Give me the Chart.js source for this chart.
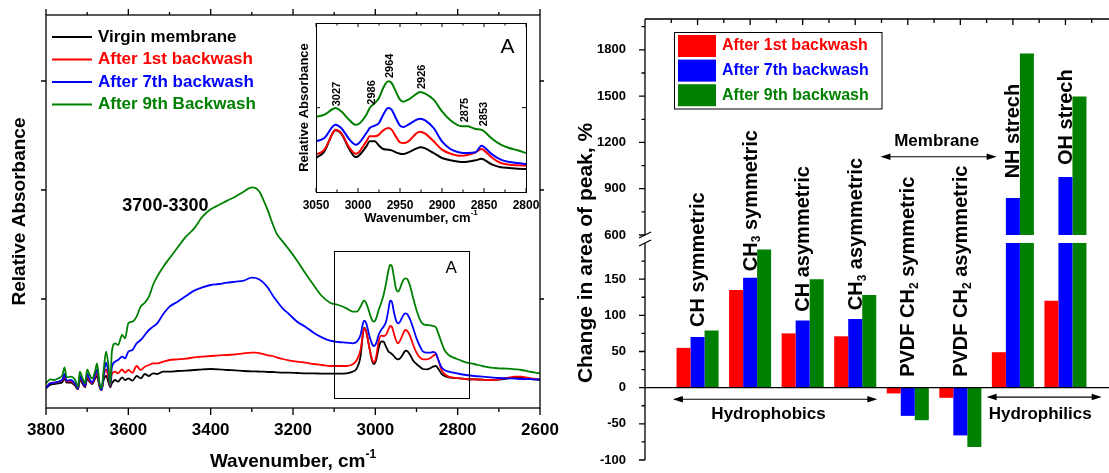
<!DOCTYPE html>
<html>
<head>
<meta charset="utf-8">
<title>FTIR spectra and change in peak area</title>
<script src="https://cdn.jsdelivr.net/npm/chart.js@4.4.1/dist/chart.umd.min.js"></script>
<style>
  html, body { margin: 0; padding: 0; background: #fff; overflow: hidden; }
  #page { position: relative; width: 1109px; height: 473px; overflow: hidden; }
  #page canvas { position: absolute; top: 0; }
</style>
</head>
<body>
<div id="page">
  <canvas id="spectra" width="564" height="473" style="left:0"></canvas>
  <canvas id="inset" width="250" height="230" style="left:290px"></canvas>
  <canvas id="peaks" width="558" height="473" style="left:560px"></canvas>
</div>
<script>
const FONT = 'Arial, "Liberation Sans", Helvetica, sans-serif';
Chart.defaults.font.family = FONT;

// FTIR spectra, relative absorbance in arbitrary units
const wavenumbers = [3800,3790,3780,3770,3760,3755,3750,3740,3730,3722,3718,3712,3705,3700,
  3695,3688,3680,3676,3670,3665,3660,3654,3648,3644,3640,
  3632,3625,3615,3608,3600,
  3590,3580,3570,3560,3550,3540,3530,3515,3500,
  3480,3460,3440,3420,3400,3380,3360,3340,3320,3300,
  3290,3280,3270,3260,3250,3240,3225,3210,3190,3170,3150,3130,3110,3090,3070,
  3055,3045,3036,3030,3027,3022,3015,3008,3003,2998,2992,2986,
  2980,2974,2968,2964,2960,2955,2950,2945,2940,2934,2929,2926,
  2921,2915,2908,2900,2892,2884,2875,2867,2860,2853,
  2847,2840,2832,2822,2810,2795,2780,2760,2740,2720,
  2700,2680,2660,2645,2630,2615,2600];
const virgin = [59,69,72,74,78,89,76,76,68,56,86,74,62,89,
  80,72,90,96,64,54,84,96,76,62,74,
  84,79,92,84,89,
  82,96,89,102,96,104,102,109,109,
  111,112,114,116,117,116,114,113,111,110,
  110,109,109,108,108,107,106,106,105,104,104,103,103,103,104,
  109,119,154,224,241,229,184,142,132,144,179,200,
  199,184,169,166,162,156,149,146,149,159,169,172,
  169,158,142,132,124,117,116,119,124,126,
  118,104,96,92,90,89,87,86,85,84,
  85,88,92,91,88,86,84];
const after1st = [62,74,76,78,84,96,80,80,72,58,92,78,64,96,
  84,74,96,104,66,54,94,116,89,64,102,
  109,104,116,106,114,
  106,126,114,124,129,134,134,139,144,
  146,148,152,154,156,158,159,161,164,166,
  166,164,161,158,156,152,147,143,139,136,132,129,126,126,126,
  131,144,174,224,239,229,184,146,136,154,199,217,
  216,220,236,246,244,224,204,194,202,219,232,234,
  229,214,189,166,152,146,146,149,156,161,
  144,116,102,94,91,89,87,86,85,84,
  86,90,94,94,91,88,86];
const after7th = [59,74,76,79,86,102,82,84,74,59,96,82,66,102,
  89,76,102,116,69,54,99,136,104,66,122,
  139,144,154,149,169,
  174,194,204,219,234,244,254,282,304,
  319,336,352,362,369,372,376,379,382,391,
  390,384,374,359,339,322,299,282,259,244,226,212,202,198,196,
  194,199,219,254,262,254,219,192,186,194,219,234,
  244,259,296,322,319,289,264,254,259,274,283,284,
  279,264,239,209,186,169,166,166,168,164,
  144,124,114,109,106,102,99,96,94,92,
  90,89,88,87,87,86,86];
const after9th = [74,86,84,89,99,122,92,94,86,64,109,92,74,116,
  102,89,114,134,74,59,114,169,124,69,169,
  194,189,219,209,254,
  259,274,304,316,334,369,394,424,449,
  482,514,539,574,596,609,622,634,649,662,
  659,646,619,589,554,524,499,476,442,404,369,336,316,309,299,
  289,289,304,319,322,314,289,264,259,269,294,314,
  339,374,414,429,426,394,359,349,359,379,388,389,
  384,364,329,294,266,252,249,248,246,242,
  224,199,174,159,151,144,137,132,126,121,
  119,118,116,114,110,107,104];
const spectraNames = ['Virgin membrane', 'After 1st backwash', 'After 7th backwash', 'After 9th Backwash'];
const spectraColors = ['#000000', '#ff0000', '#0000ff', '#008000'];
const spectraLevels = [327, 654, 981];
const regionA = { from: 3100, to: 2772, low: 31, high: 471 };

// inset A, 3050-2800 cm-1
const insetWavenumbers = [3050,3040,3030,3027,3020,3010,3003,3000,2990,2986,2980,2975,2970,2964,2960,2955,2950,2946,
  2940,2930,2926,2920,2910,2900,2890,2880,2875,2870,2860,2853,2850,2840,2830,2820,2810,2800];
const insetVirgin = [102,122,177,185,175,127,105,107,137,152,152,139,129,127,125,119,115,114,
  119,131,134,131,117,102,95,91,90,91,95,100,97,82,74,72,70,69];
const insetAfter1st = [112,127,177,187,177,132,115,117,152,167,167,172,185,192,187,167,149,147,
  152,177,181,175,152,127,115,109,109,111,119,129,125,102,87,82,80,79];
const insetAfter7th = [152,162,197,202,192,157,142,144,177,192,199,207,232,252,247,222,199,195,
  202,217,220,215,192,152,129,119,117,117,119,139,135,112,97,90,87,84];
const insetAfter9th = [225,232,249,252,242,215,202,203,232,252,267,282,312,332,327,302,277,271,
  277,295,300,295,277,242,215,199,197,197,189,187,182,159,142,132,125,117];
const peakWavenumbers = [3027, 2986, 2964, 2926, 2875, 2853];
const peakLabelLevels = [257, 262, 342, 309, 209, 197];
const insetLevels = [253];

// change in area of peak, %
const peakGroups = ['CH symmetric', 'CH₃ symmetric', 'CH asymmetric', 'CH₃ asymmetric',
  'PVDF CH₂ symmetric', 'PVDF CH₂ asymmetric', 'NH strech', 'OH strech'];
const change1st = [55, 135, 75, 71, -8, -14, 49, 120];
const change7th = [70, 152, 93, 95, -39, -66, 840, 976];
const change9th = [79, 191, 150, 128, -45, -82, 1777, 1497];
const groupLabelLevels = [84, 161, 105, 107, 15, 15, 967, 1054];
const barNames = ['After 1st backwash', 'After 7th backwash', 'After 9th backwash'];
const barColors = ['#ff0000', '#0000ff', '#008000'];
const lowTicks = [-100, -50, 0, 50, 100, 150];
const highTicks = [600, 900, 1200, 1500, 1800];
const breakLow = 200, breakHigh = 600;
const peakClasses = [
  { name: 'Hydrophobics', from: -0.47, to: 3.42, line: -16, text: -36.5, at: 1.35 },
  { name: 'Membrane', from: 3.48, to: 5.69, line: 1107, text: 1205, at: 4.55 },
  { name: 'Hydrophilics', from: 5.5, to: 7.69, line: -13, text: -36.5, at: 6.52 }
];

// text with sub/superscripts (₂ ₃ ⁻ ¹)
const SUB = '₀₁₂₃₄₅₆₇₈₉';
const SUP = { '⁻': '-', '¹': '1', '²': '2' };
function textRuns(text) {
  const out = [];
  for (const ch of text) {
    let kind = 'n', c = ch;
    if (SUB.includes(ch)) { kind = 'sub'; c = String(SUB.indexOf(ch)); }
    else if (SUP[ch]) { kind = 'sup'; c = SUP[ch]; }
    const last = out[out.length - 1];
    if (last && last.kind === kind) last.t += c; else out.push({ kind, t: c });
  }
  return out;
}
function drawLabel(ctx, text, x, y, o) {
  const size = o.size, small = Math.round(size * 0.62);
  const font = s => `${o.weight || 'bold'} ${s}px ${FONT}`;
  const parts = textRuns(text);
  let w = 0;
  parts.forEach(p => { ctx.font = font(p.kind === 'n' ? size : small); p.w = ctx.measureText(p.t).width; w += p.w; });
  ctx.save();
  ctx.translate(x, y);
  if (o.rotate) ctx.rotate(-Math.PI / 2);
  ctx.fillStyle = o.color || '#000';
  ctx.textBaseline = 'middle';
  ctx.textAlign = 'left';
  let cx = o.align === 'left' ? 0 : -w / 2;
  parts.forEach(p => {
    ctx.font = font(p.kind === 'n' ? size : small);
    const dy = p.kind === 'sub' ? size * 0.3 : p.kind === 'sup' ? -size * 0.38 : 0;
    ctx.fillText(p.t, cx, dy);
    cx += p.w;
  });
  ctx.restore();
}
function midpoints(values) {
  return values.slice(1).map((v, i) => (v + values[i]) / 2);
}

// ---------- left: spectra ----------
const spectraSeries = [virgin, after1st, after7th, after9th];

const spectraDecor = {
  id: 'spectraDecor',
  afterDraw(chart) {
    const { ctx, chartArea: a, scales: { x, y } } = chart;
    ctx.save();
    ctx.strokeStyle = '#000';
    ctx.lineWidth = 1.3;
    ctx.strokeRect(a.left, a.top, a.right - a.left, a.bottom - a.top);

    const major = x.ticks.map(t => t.value);
    ctx.beginPath();
    major.forEach(v => {
      const px = x.getPixelForValue(v);
      ctx.moveTo(px, a.bottom); ctx.lineTo(px, a.bottom + 7);
      ctx.moveTo(px, a.top); ctx.lineTo(px, a.top - 6);
    });
    midpoints(major).forEach(v => {
      const px = x.getPixelForValue(v);
      ctx.moveTo(px, a.bottom); ctx.lineTo(px, a.bottom + 4);
      ctx.moveTo(px, a.top); ctx.lineTo(px, a.top - 3);
    });
    spectraLevels.forEach(v => {
      const py = y.getPixelForValue(v);
      ctx.moveTo(a.left, py); ctx.lineTo(a.left - 5, py);
      ctx.moveTo(a.right, py); ctx.lineTo(a.right + 4, py);
    });
    ctx.stroke();

    // region shown in inset A
    ctx.lineWidth = 1;
    const bx = x.getPixelForValue(regionA.from), bx2 = x.getPixelForValue(regionA.to);
    const by = y.getPixelForValue(regionA.high), by2 = y.getPixelForValue(regionA.low);
    ctx.strokeRect(Math.round(bx) + 0.5, Math.round(by) + 0.5, Math.round(bx2 - bx), Math.round(by2 - by));
    drawLabel(ctx, 'A', x.getPixelForValue(2816), y.getPixelForValue(420), { size: 17, weight: 'normal' });
    drawLabel(ctx, '3700-3300', x.getPixelForValue(3510), y.getPixelForValue(606), { size: 18 });

    // legend
    chart.data.datasets.forEach((ds, i) => {
      const ly = 37 + i * 22.5;
      ctx.strokeStyle = ds.borderColor;
      ctx.lineWidth = 2;
      ctx.beginPath(); ctx.moveTo(52, ly); ctx.lineTo(92, ly); ctx.stroke();
      drawLabel(ctx, ds.label, 98, ly, { size: 17, color: ds.borderColor, align: 'left' });
    });

    drawLabel(ctx, 'Wavenumber, cm⁻¹', (a.left + a.right) / 2, 462, { size: 19 });
    drawLabel(ctx, 'Relative Absorbance', 20, (a.top + a.bottom) / 2, { size: 19, rotate: true });
    ctx.restore();
  }
};

new Chart(document.getElementById('spectra'), {
  type: 'line',
  data: {
    datasets: spectraSeries.map((vals, i) => ({
      label: spectraNames[i],
      data: wavenumbers.map((w, k) => ({ x: w, y: vals[k] })),
      borderColor: spectraColors[i],
      borderWidth: 1.8,
      pointRadius: 0,
      cubicInterpolationMode: 'monotone',
      order: spectraSeries.length - i
    }))
  },
  options: {
    responsive: false,
    animation: false,
    events: [],
    layout: { padding: { left: 46, top: 15, right: 24, bottom: 0 } },
    plugins: { legend: { display: false }, tooltip: { enabled: false } },
    scales: {
      x: {
        type: 'linear', reverse: true, min: 2600, max: 3800,
        ticks: { stepSize: 200, callback: v => String(v), color: '#000', padding: 4,
          maxRotation: 0, autoSkip: false, font: { size: 17, weight: 'bold' } },
        grid: { display: false },
        border: { display: false },
        afterFit: s => { s.height = 65; s.paddingLeft = 0; s.paddingRight = 0; }
      },
      y: { display: false, min: 0, max: 1179 }
    }
  },
  plugins: [spectraDecor]
});

// ---------- inset A ----------
const insetSeries = [insetVirgin, insetAfter1st, insetAfter7th, insetAfter9th];

const insetDecor = {
  id: 'insetDecor',
  afterDraw(chart) {
    const { ctx, chartArea: a, scales: { x, y } } = chart;
    ctx.save();
    ctx.strokeStyle = '#000';
    ctx.lineWidth = 1;
    ctx.strokeRect(a.left + 0.5, a.top + 0.5, a.right - a.left, a.bottom - a.top);
    const major = x.ticks.map(t => t.value);
    ctx.beginPath();
    major.forEach(v => {
      const px = x.getPixelForValue(v);
      ctx.moveTo(px, a.bottom); ctx.lineTo(px, a.bottom - 4);
      ctx.moveTo(px, a.top); ctx.lineTo(px, a.top + 4);
    });
    midpoints(major).forEach(v => {
      const px = x.getPixelForValue(v);
      ctx.moveTo(px, a.bottom); ctx.lineTo(px, a.bottom - 2.5);
      ctx.moveTo(px, a.top); ctx.lineTo(px, a.top + 2.5);
    });
    insetLevels.forEach(v => {
      const py = y.getPixelForValue(v);
      ctx.moveTo(a.left, py); ctx.lineTo(a.left + 4, py);
      ctx.moveTo(a.right, py); ctx.lineTo(a.right - 4, py);
    });
    ctx.stroke();

    peakWavenumbers.forEach((w, i) => {
      drawLabel(ctx, String(w), x.getPixelForValue(w) + 2, y.getPixelForValue(peakLabelLevels[i]),
        { size: 11, rotate: true, align: 'left' });
    });
    drawLabel(ctx, 'A', x.getPixelForValue(2822), y.getPixelForValue(435), { size: 21, weight: 'normal' });
    drawLabel(ctx, 'Wavenumber, cm⁻¹', (a.left + a.right) / 2, 218, { size: 13 });
    drawLabel(ctx, 'Relative Absorbance', 14, (a.top + a.bottom) / 2, { size: 13, rotate: true });
    ctx.restore();
  }
};

new Chart(document.getElementById('inset'), {
  type: 'line',
  data: {
    datasets: insetSeries.map((vals, i) => ({
      label: spectraNames[i],
      data: insetWavenumbers.map((w, k) => ({ x: w, y: vals[k] })),
      borderColor: spectraColors[i],
      borderWidth: 2,
      pointRadius: 0,
      cubicInterpolationMode: 'monotone',
      order: insetSeries.length - i
    }))
  },
  options: {
    responsive: false,
    animation: false,
    events: [],
    layout: { padding: { left: 26, top: 23, right: 14, bottom: 0 } },
    plugins: { legend: { display: false }, tooltip: { enabled: false } },
    scales: {
      x: {
        type: 'linear', reverse: true, min: 2800, max: 3050,
        ticks: { stepSize: 50, callback: v => String(v), color: '#000', padding: -2,
          maxRotation: 0, autoSkip: false, font: { size: 12, weight: 'bold' } },
        grid: { display: false },
        border: { display: false },
        afterFit: s => { s.height = 38; s.paddingLeft = 0; s.paddingRight = 0; }
      },
      y: { display: false, min: 0, max: 507 }
    }
  },
  plugins: [insetDecor]
});

// ---------- right: change in area of peak ----------
const barSeries = [change1st, change7th, change9th];
const highWeight = 220, lowWeight = 221;

// each series is drawn twice, once per axis segment; clipping to the
// segment's own box hides the part that falls outside it
function barDataset(i, axis) {
  return {
    label: barNames[i],
    data: barSeries[i].map((v, k) => ({ x: k, y: v })),
    backgroundColor: barColors[i],
    borderWidth: 0,
    yAxisID: axis,
    stack: 'series' + i,
    categoryPercentage: 0.8,
    barPercentage: 1,
    clip: 0
  };
}

function arrow(ctx, x0, x1, y) {
  ctx.beginPath(); ctx.moveTo(x0 + 5, y); ctx.lineTo(x1 - 5, y); ctx.stroke();
  [[x0, 1], [x1, -1]].forEach(([px, d]) => {
    ctx.beginPath();
    ctx.moveTo(px, y);
    ctx.lineTo(px + d * 10, y - 3.2);
    ctx.lineTo(px + d * 10, y + 3.2);
    ctx.closePath();
    ctx.fill();
  });
}

const peakDecor = {
  id: 'peakDecor',
  afterDatasetsDraw(chart) {
    const { ctx, chartArea: a, scales: { yHigh, yLow } } = chart;
    const g0 = yHigh.getPixelForValue(breakHigh), g1 = yLow.getPixelForValue(breakLow);
    ctx.save();
    ctx.fillStyle = '#fff';
    ctx.fillRect(a.left, g0, a.right - a.left, g1 - g0);
    ctx.restore();
  },
  afterDraw(chart) {
    const { ctx, chartArea: a, scales: { x, yHigh, yLow } } = chart;
    const g0 = yHigh.getPixelForValue(breakHigh), g1 = yLow.getPixelForValue(breakLow);
    const onAxis = v => (v >= breakHigh ? yHigh : yLow).getPixelForValue(v);
    ctx.save();
    ctx.strokeStyle = '#000';
    ctx.fillStyle = '#000';
    ctx.lineWidth = 1.3;
    ctx.beginPath();
    ctx.moveTo(a.left, a.top); ctx.lineTo(a.left, g0);
    ctx.moveTo(a.left, g1); ctx.lineTo(a.left, a.bottom);
    ctx.moveTo(a.left, a.top); ctx.lineTo(a.right, a.top);
    const y0 = yLow.getPixelForValue(0);
    ctx.moveTo(a.left, y0); ctx.lineTo(a.right, y0);
    for (let v = x.min; v <= x.max; v += 0.5) {
      const px = x.getPixelForValue(v);
      ctx.moveTo(px, a.top); ctx.lineTo(px, a.top + (Number.isInteger(v) ? 6 : 4));
    }
    [[yLow, lowTicks], [yHigh, highTicks]].forEach(([s, major]) => {
      const step = major[1] - major[0];
      major.forEach(v => {
        const py = s.getPixelForValue(v);
        ctx.moveTo(a.left, py); ctx.lineTo(a.left - 6, py);
        if (v + step / 2 < s.max) {
          const pm = s.getPixelForValue(v + step / 2);
          ctx.moveTo(a.left, pm); ctx.lineTo(a.left - 3.5, pm);
        }
      });
    });
    ctx.stroke();

    // axis break marks
    ctx.lineWidth = 1.2;
    ctx.beginPath();
    [g0, g1].forEach(gy => { ctx.moveTo(a.left - 6, gy + 3); ctx.lineTo(a.left + 6, gy - 3); });
    ctx.stroke();

    // legend
    chart.data.datasets.slice(0, barNames.length).forEach((ds, i) => {
      const top = 35 + i * 24.6;
      ctx.fillStyle = ds.backgroundColor;
      ctx.fillRect(118, top, 38, 22);
      drawLabel(ctx, ds.label, 162, top + 11, { size: 16, color: ds.backgroundColor, align: 'left' });
    });
    ctx.lineWidth = 1;
    ctx.strokeRect(114.5, 32.5, 207.5, 76.5);

    // hydrophobic / membrane / hydrophilic spans
    ctx.fillStyle = '#000';
    ctx.lineWidth = 1.2;
    peakClasses.forEach(c => {
      arrow(ctx, x.getPixelForValue(c.from), x.getPixelForValue(c.to), onAxis(c.line));
      drawLabel(ctx, c.name, x.getPixelForValue(c.at), onAxis(c.text), { size: 17 });
    });

    peakGroups.forEach((name, i) => {
      drawLabel(ctx, name, x.getPixelForValue(i) + 1, onAxis(groupLabelLevels[i]),
        { size: 20, rotate: true, align: 'left' });
    });

    drawLabel(ctx, 'Change in area of peak, %', 26, 253, { size: 21, rotate: true });
    ctx.restore();
  }
};

const tickStyle = { color: '#000', padding: 11, callback: v => String(v), font: { size: 13, weight: 'bold' } };
const fitSegment = s => { s.width = 85; s.paddingTop = 0; s.paddingBottom = 0; };

new Chart(document.getElementById('peaks'), {
  type: 'bar',
  data: {
    datasets: [0, 1, 2].map(i => barDataset(i, 'yLow')).concat([0, 1, 2].map(i => barDataset(i, 'yHigh')))
  },
  options: {
    responsive: false,
    animation: false,
    events: [],
    layout: { padding: { left: 0, top: 19, right: 0, bottom: 13 } },
    plugins: { legend: { display: false }, tooltip: { enabled: false } },
    scales: {
      x: { type: 'linear', min: -1, max: 8, display: false, offset: false, grid: { offset: false } },
      // stacked axes: the one listed first sits at the bottom
      yLow: {
        type: 'linear', position: 'left', stack: 'change', stackWeight: lowWeight,
        min: -100, max: 205.5, ticks: tickStyle,
        grid: { display: false }, border: { display: false },
        afterBuildTicks: s => { s.ticks = lowTicks.map(value => ({ value })); },
        afterFit: fitSegment
      },
      yHigh: {
        type: 'linear', position: 'left', stack: 'change', stackWeight: highWeight,
        min: 574, max: 2000, ticks: tickStyle,
        grid: { display: false }, border: { display: false },
        afterBuildTicks: s => { s.ticks = highTicks.map(value => ({ value })); },
        afterFit: fitSegment
      }
    }
  },
  plugins: [peakDecor]
});
</script>
</body>
</html>
